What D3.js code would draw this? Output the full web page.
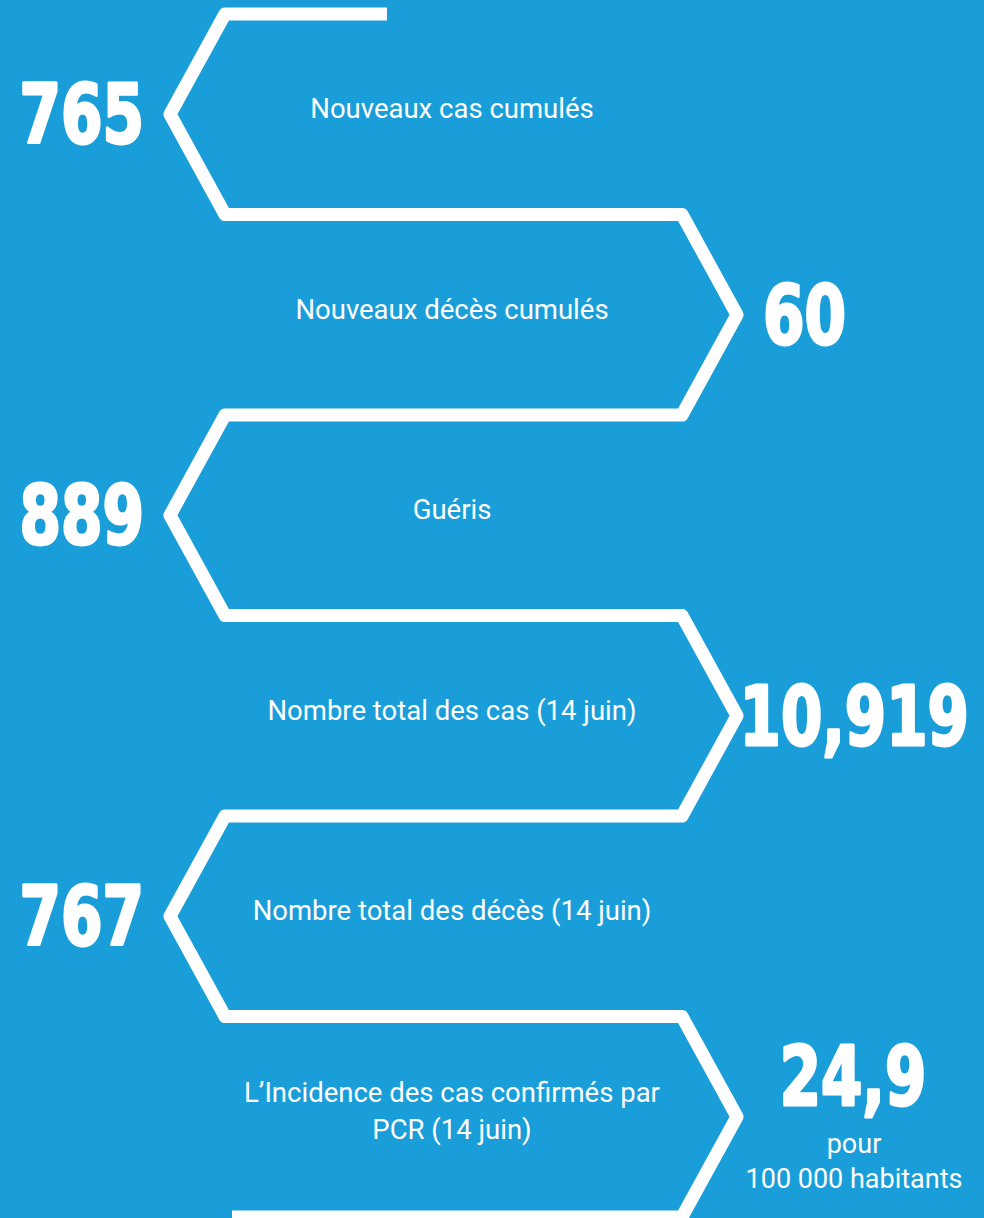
<!DOCTYPE html>
<html>
<head>
<meta charset="utf-8">
<script src="https://cdn.jsdelivr.net/npm/d3@7"></script>
<style>
  html, body { margin: 0; padding: 0; background: #199ed9; }
  #chart { width: 984px; height: 1218px; }
</style>
</head>
<body>
<div id="chart"></div>
<script>
// data
const values = ["765", "60", "889", "10,919", "767", "24,9"];
const labels = [
  ["Nouveaux cas cumulés"],
  ["Nouveaux décès cumulés"],
  ["Guéris"],
  ["Nombre total des cas (14 juin)"],
  ["Nombre total des décès (14 juin)"],
  ["L\u2019Incidence des cas confirmés par", "PCR (14 juin)"]
];
const sides = ["left", "right", "left", "right", "left", "right"];
const unitLines = ["pour", "100 000 habitants"]; // under the last value

const width = 984, height = 1218;
const blue = "#199ed9";

const svg = d3
  .select("#chart")
  .append("svg")
  .attr("width", width)
  .attr("height", height);

svg.append("rect").attr("width", width).attr("height", height).attr("fill", blue);

// rows: boundaries at integers, arrow tips at i + 0.5
const y = d3.scaleLinear().domain([0, values.length]).range([14, 1217]);
// 0 = left corner, 1 = right corner
const x = d3.scaleLinear().domain([0, 1]).range([225, 682]);
const tipOut = 55;

// build the zigzag outline
const pts = [[387, y(0)]];
sides.forEach(function (s, i) {
  const cx = s === "left" ? x(0) : x(1);
  const tx = s === "left" ? x(0) - tipOut : x(1) + tipOut;
  pts.push([cx, y(i)]);
  pts.push([tx, y(i + 0.5)]);
  pts.push([cx, y(i + 1)]);
});
pts.push([232, y(values.length)]);

svg
  .append("path")
  .attr("d", d3.line()(pts))
  .attr("fill", "none")
  .attr("stroke", "white")
  .attr("stroke-width", 13)
  .attr("stroke-linejoin", "round");

// labels in the middle of each band
const labelX = 452, lineH = 37;
labels.forEach(function (lines, i) {
  const t = svg
    .append("text")
    .attr("text-anchor", "middle")
    .attr("font-family", "Roboto, 'Liberation Sans', sans-serif")
    .attr("font-size", 27.5)
    .attr("fill", "white");
  lines.forEach(function (ln, k) {
    t.append("tspan")
      .attr("x", labelX)
      .attr("y", y(i + 0.5) + 4 + (k - (lines.length - 1) / 2) * lineH)
      .text(ln);
  });
});

// big numbers
function numWidth(s) {
  let w = 0;
  for (const c of s) w += c === "," ? 22 : 41.5;
  return w;
}

values.forEach(function (v, i) {
  const last = i === values.length - 1;
  const w = numWidth(v);
  let px, anchor = "start", py = y(i + 0.5) + 29;
  if (sides[i] === "left") {
    px = 144;
    anchor = "end";
  } else if (last) {
    px = 853;
    anchor = "middle";
    py = y(i + 0.5) - 12;
  } else {
    px = Math.min(763, 969 - w);
  }
  svg
    .append("text")
    .attr("x", px)
    .attr("y", py)
    .attr("text-anchor", anchor)
    .attr("font-family", "'Liberation Sans Narrow', 'DejaVu Sans Condensed', sans-serif")
    .attr("font-weight", "bold")
    .attr("font-size", 82)
    .attr("textLength", w)
    .attr("lengthAdjust", "spacingAndGlyphs")
    .attr("fill", "white")
    .attr("stroke", "white")
    .attr("stroke-width", 3)
    .attr("stroke-linejoin", "round")
    .text(v);
});

// unit under the last value
const lastTip = y(values.length - 0.5);
unitLines.forEach(function (u, k) {
  svg
    .append("text")
    .attr("x", 854)
    .attr("y", lastTip + 36 + k * 35)
    .attr("text-anchor", "middle")
    .attr("font-family", "Roboto, 'Liberation Sans', sans-serif")
    .attr("font-size", 27)
    .attr("fill", "white")
    .text(u);
});
</script>
</body>
</html>
